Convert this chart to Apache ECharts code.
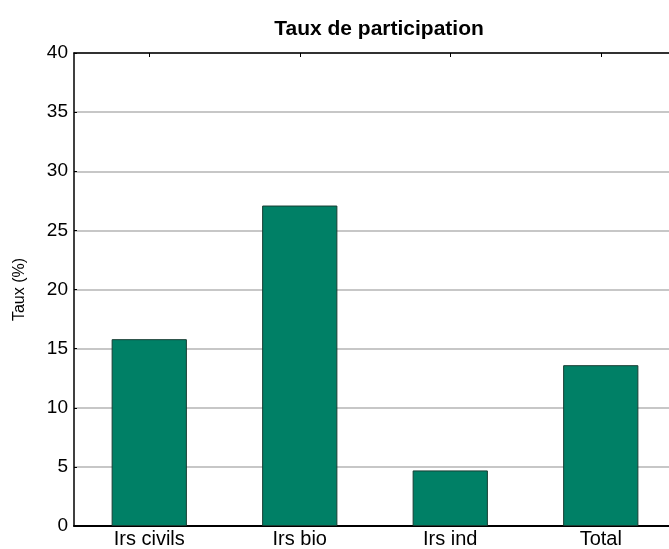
<!DOCTYPE html>
<html>
<head>
    <meta charset="utf-8">
    <title>Taux de participation</title>
    <script src="https://cdn.jsdelivr.net/npm/echarts@6/dist/echarts.min.js"></script>
</head>
<body style="margin:0;overflow:hidden">
<!-- le graphique de départ est coupé à droite : zone un peu plus large que la fenêtre -->
<div id="chart" style="width:684px;height:549px;"></div>
<script type="text/javascript">
    var categories = ['Irs civils', 'Irs bio', 'Irs ind', 'Total'];
    var taux = [15.8, 27.1, 4.7, 13.6];
    var yTicks = [0, 40, 5]; // min, max, pas

    var font = 'Liberation Sans, Arial, Helvetica, sans-serif';

    var option = {
        animation: false,
        title: {
            text: 'Taux de participation',
            left: 374,
            top: 14,
            textAlign: 'center',
            textStyle: {fontFamily: font, fontSize: 21, fontWeight: 'bold', color: '#000'}
        },
        grid: {left: 74, top: 53, width: 602, height: 474, containLabel: false},
        xAxis: [{
            type: 'category',
            data: categories,
            position: 'bottom',
            axisLine: {lineStyle: {color: '#000', width: 2}},
            axisTick: {show: true, inside: true, alignWithLabel: true, length: 4, lineStyle: {color: '#000'}},
            axisLabel: {fontFamily: font, fontSize: 20, color: '#000', margin: 3}
        }, {
            type: 'category',
            data: categories,
            position: 'top',
            axisLine: {lineStyle: {color: '#000', width: 1.5}},
            axisTick: {show: true, inside: true, alignWithLabel: true, length: 4, lineStyle: {color: '#000'}},
            axisLabel: {show: false}
        }],
        yAxis: {
            type: 'value',
            min: yTicks[0],
            max: yTicks[1],
            interval: yTicks[2],
            name: 'Taux (%)',
            nameLocation: 'middle',
            nameGap: 46,
            nameTextStyle: {fontFamily: font, fontSize: 16, color: '#000'},
            axisLine: {show: true, lineStyle: {color: '#000', width: 1.5}},
            axisTick: {show: true, inside: true, length: 3, lineStyle: {color: '#000'}},
            axisLabel: {fontFamily: font, fontSize: 19, color: '#000', margin: 6},
            splitLine: {show: true, lineStyle: {color: '#b4b4b4', width: 1.5}}
        },
        series: [{
            type: 'bar',
            data: taux,
            barWidth: '50%',
            itemStyle: {color: '#008066', borderColor: '#173d33', borderWidth: 1}
        }]
    };

    var myChart = echarts.init(document.getElementById('chart'));
    myChart.setOption(option);
</script>
</body>
</html>
